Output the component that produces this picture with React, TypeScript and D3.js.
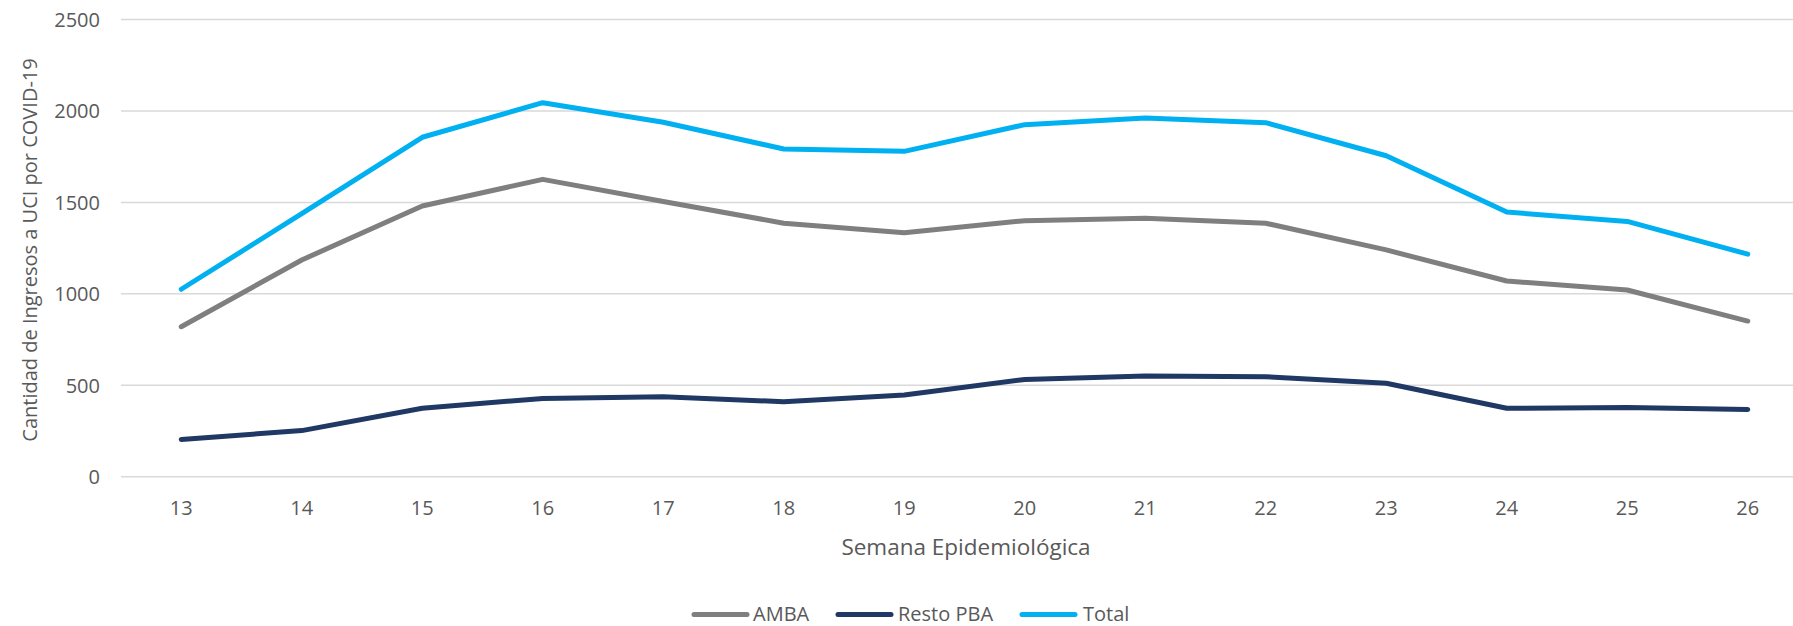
import React from "react";
import * as d3 from "d3";

const weeks = ["13","14","15","16","17","18","19","20","21","22","23","24","25","26"];
const amba = [820, 1185, 1480, 1626, 1505, 1386, 1334, 1400, 1413, 1386, 1240, 1070, 1021, 851];
const restoPBA = [204, 252, 374, 428, 437, 410, 447, 532, 551, 547, 511, 374, 379, 368];
const total = [1025, 1438, 1856, 2045, 1938, 1792, 1779, 1925, 1962, 1936, 1755, 1447, 1396, 1217];
const yTicks = [0, 500, 1000, 1500, 2000, 2500];
const seriesNames = ["AMBA", "Resto PBA", "Total"];
const seriesColors = ["#7F7F7F", "#1F3864", "#00B0F0"];

export default function App() {
  const W = 1793, H = 626;
  const left = 121, bandW = 120.5;
  const x = d3.scaleBand<string>().domain(weeks).range([left, left + bandW * weeks.length]).padding(0);
  const y = d3.scaleLinear().domain([0, 2500]).range([476.7, 19.5]);
  const cx = (w: string) => (x(w) as number) + x.bandwidth() / 2;
  const line = d3.line<number>().x((_, i) => cx(weeks[i])).y((v) => y(v));
  const series = [amba, restoPBA, total];
  const font = "'Open Sans', sans-serif";
  const txt = "#595959";
  const legendItems = [
    { lx: 694, tx: 753 },
    { lx: 838, tx: 898 },
    { lx: 1022, tx: 1083 },
  ];
  return (
    <div style={{ position: "absolute", left: 0, top: 0 }}>
      <svg width={W} height={H} style={{ display: "block", background: "#fff" }}>
        {yTicks.map((t) => (
          <g key={t}>
            <line x1={left} x2={left + bandW * weeks.length} y1={y(t)} y2={y(t)} stroke="#D9D9D9" strokeWidth={1.5} />
            <text x={100} y={y(t) + 7.5} textAnchor="end" fontFamily={font} fontSize={20} fill={txt}>{t}</text>
          </g>
        ))}
        {weeks.map((w) => (
          <text key={w} x={cx(w)} y={515} textAnchor="middle" fontFamily={font} fontSize={20} fill={txt}>{w}</text>
        ))}
        <text x={966} y={555} textAnchor="middle" fontFamily={font} fontSize={22.5} fill={txt}>Semana Epidemiológica</text>
        <text transform="translate(37,250) rotate(-90)" textAnchor="middle" fontFamily={font} fontSize={20} fill={txt}>Cantidad de Ingresos a UCI por COVID-19</text>
        {series.map((s, i) => (
          <path key={i} d={line(s) || ""} fill="none" stroke={seriesColors[i]} strokeWidth={5} strokeLinejoin="round" strokeLinecap="round" />
        ))}
        {seriesNames.map((n, i) => (
          <g key={n}>
            <line x1={legendItems[i].lx} x2={legendItems[i].lx + 53} y1={614.5} y2={614.5} stroke={seriesColors[i]} strokeWidth={5} strokeLinecap="round" />
            <text x={legendItems[i].tx} y={620.5} fontFamily={font} fontSize={20} fill={txt}>{n}</text>
          </g>
        ))}
      </svg>
    </div>
  );
}
